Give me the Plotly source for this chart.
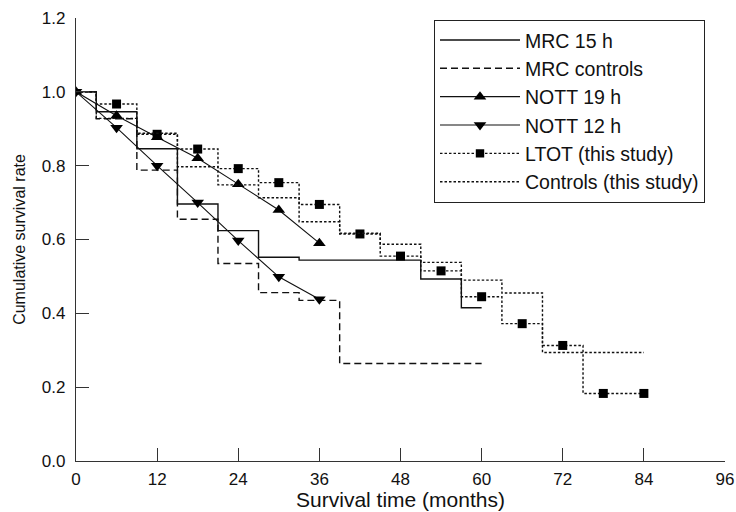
import plotly.graph_objects as go

# ---- data ----
months = [0, 6, 12, 18, 24, 30, 36, 42, 48, 54, 60, 66, 72, 78, 84]
mrc15_months = [0, 6, 12, 18, 24, 30, 36, 42, 48, 54, 60]
mrc15 = [1.0, 0.946, 0.846, 0.696, 0.624, 0.552, 0.544, 0.544, 0.544, 0.493, 0.415]
mrc_ctrl = [1.0, 0.927, 0.788, 0.655, 0.535, 0.456, 0.435, 0.264, 0.264, 0.264, 0.264]
nott_months = [0, 6, 12, 18, 24, 30, 36]
nott19 = [1.0, 0.935, 0.877, 0.82, 0.75, 0.68, 0.59]
nott12 = [1.0, 0.903, 0.80, 0.70, 0.597, 0.499, 0.438]
ltot = [1.0, 0.967, 0.885, 0.845, 0.792, 0.754, 0.695, 0.615, 0.555, 0.515,
        0.445, 0.372, 0.313, 0.183, 0.183]
controls = [1.0, 0.928, 0.888, 0.797, 0.748, 0.713, 0.648, 0.617, 0.587, 0.538,
            0.49, 0.455, 0.294, 0.294, 0.294]
x_ticks = [0, 12, 24, 36, 48, 60, 72, 84, 96]
y_ticks = [0.0, 0.2, 0.4, 0.6, 0.8, 1.0, 1.2]

FONT = "Liberation Sans, Arial, sans-serif"
INK = "#111111"

fig = go.Figure()
fig.add_trace(go.Scatter(x=mrc15_months, y=mrc15, name="MRC 15 h", mode="lines",
                         line=dict(color=INK, width=1.4, shape="hvh")))
fig.add_trace(go.Scatter(x=mrc15_months, y=mrc_ctrl, name="MRC controls", mode="lines",
                         line=dict(color=INK, width=1.4, shape="hvh", dash="7px,4px")))
fig.add_trace(go.Scatter(x=nott_months, y=nott19, name="NOTT 19 h", mode="lines+markers",
                         line=dict(color=INK, width=1.1),
                         marker=dict(symbol="triangle-up", size=11, color="black", opacity=1)))
fig.add_trace(go.Scatter(x=nott_months, y=nott12, name="NOTT 12 h", mode="lines+markers",
                         line=dict(color=INK, width=1.1),
                         marker=dict(symbol="triangle-down", size=11, color="black", opacity=1)))
fig.add_trace(go.Scatter(x=months, y=ltot, name="LTOT (this study)", mode="lines+markers",
                         line=dict(color=INK, width=1.4, shape="hvh", dash="2.5px,2px"),
                         marker=dict(symbol="square", size=[0] + [9] * (len(months) - 1),
                                     color="black", opacity=1, line=dict(width=0))))
fig.add_trace(go.Scatter(x=months, y=controls, name="Controls (this study)", mode="lines",
                         line=dict(color=INK, width=1.4, shape="hvh", dash="2.5px,2px")))

axis_common = dict(showgrid=False, zeroline=False, showline=True, linecolor="#333",
                   linewidth=1.2, ticks="inside", ticklen=13, tickwidth=1.1,
                   tickcolor="#333", automargin=False,
                   tickfont=dict(family=FONT, size=17, color=INK))

fig.update_layout(
    width=736, height=512,
    margin=dict(l=76, r=11, t=18, b=51),
    paper_bgcolor="white", plot_bgcolor="white",
    font=dict(family=FONT, color=INK),
    xaxis=dict(range=[0, 96], tickvals=x_ticks, ticklabelstandoff=2,
               title=dict(text="Survival time (months)", font=dict(size=21, family=FONT, color=INK),
                          standoff=0),
               **axis_common),
    yaxis=dict(range=[0, 1.2], tickvals=y_ticks, tickformat=".1f", ticklabelstandoff=6,
               title=dict(text="Cumulative survival rate", font=dict(size=16, family=FONT, color=INK),
                          standoff=12),
               **axis_common),
    legend=dict(x=(434 - 76) / 649, y=0.996, xanchor="left", yanchor="top",
                bgcolor="white", bordercolor="#222", borderwidth=1,
                font=dict(family=FONT, size=19.5, color=INK),
                itemwidth=80, tracegroupgap=0),
    showlegend=True,
)

fig.write_html("out.html")
